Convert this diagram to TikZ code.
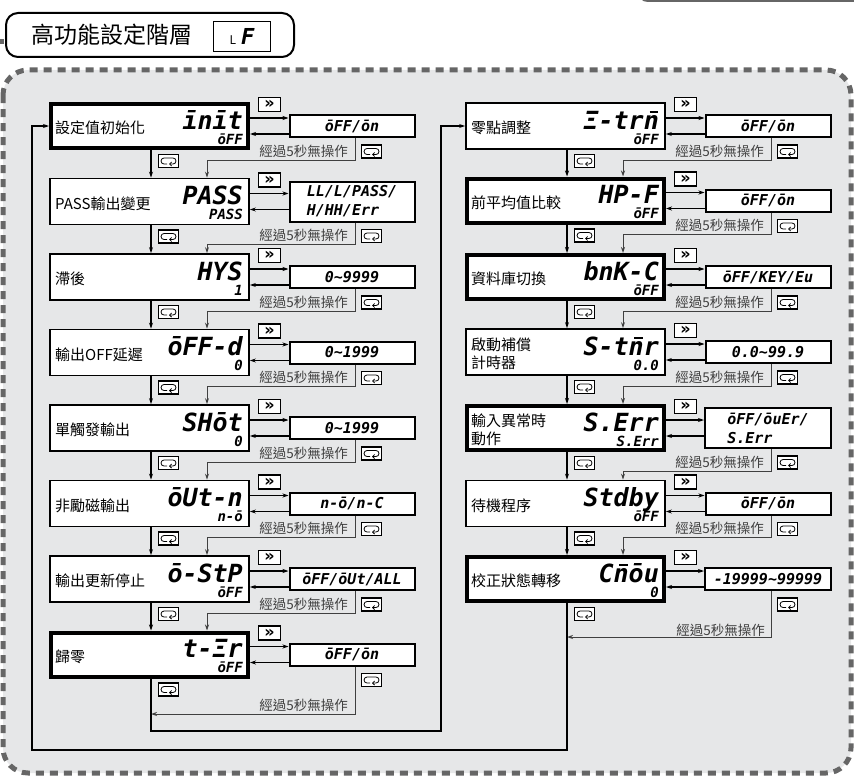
\documentclass[tikz,border=0pt]{standalone}
\usepackage{fontspec}
\setmainfont{Noto Sans CJK TC}
\newfontfamily\segfont{DejaVu Sans Mono}
\newfontfamily\symfont{DejaVu Sans}
\usetikzlibrary{arrows.meta,positioning}

\definecolor{panelgray}{HTML}{E6E7E8}
\definecolor{dashgray}{HTML}{666666}
\definecolor{inkgray}{HTML}{404040}

% segment with a bar on top
\newcommand\segbar[1]{\ooalign{#1\cr\hidewidth\kern0.2em\raisebox{0.64em}{\rule{0.34em}{0.09em}}\hidewidth\cr}}

\tikzset{
  menubox/.style={draw=black,fill=white,line width=1.8pt,minimum width=199pt,minimum height=46pt,inner sep=0pt},
  menuboxbold/.style={menubox,line width=4pt,minimum width=197pt,minimum height=44pt},
  valbox/.style={draw=black,fill=white,line width=2pt,minimum width=125pt,minimum height=22pt,inner sep=0pt,align=left,
    font=\segfont\bfseries\itshape\fontsize{15}{19}\selectfont},
  keybtn/.style={draw=black,fill=white,line width=1.2pt,minimum width=22pt,minimum height=14pt,inner sep=0pt,
    font=\symfont\bfseries\fontsize{16}{16}\selectfont},
  loopbtn/.style={draw=black,fill=white,line width=1.2pt,minimum width=20pt,minimum height=13pt,inner sep=0pt},
  itemtext/.style={anchor=west,inner sep=0pt,align=left,font=\fontsize{15}{18}\selectfont},
  segbig/.style={anchor=base east,inner sep=0pt,font=\segfont\bfseries\itshape\fontsize{25}{25}\selectfont},
  segsmall/.style={anchor=base east,inner sep=0pt,font=\segfont\bfseries\itshape\fontsize{14}{14}\selectfont},
  idletext/.style={anchor=east,inner sep=0pt,text=inkgray,font=\fontsize{13.5}{14}\selectfont},
  flow/.style={line width=1.2pt,-{Stealth[length=6pt,width=4pt]}},
  idle/.style={draw=inkgray,line width=1pt,-{Stealth[length=6pt,width=4pt]}},
  loopicon/.pic={\draw[line width=0.8pt,-{Straight Barb[length=2pt,width=4pt]}]
    (-1.5,3) -- (-4.5,3) arc(90:270:3) -- (4.5,-3) arc(270:450:3) -- (0.5,3);}
}

% one row of the menu: box, texts, value box, keys and arrows
\newcommand\menurow[9]{%
  \node[#4] (#1) at (#2+100.5,#3) {};
  \node[itemtext] (#1-l) at (#2+6,#3+2) {#5};
  \node[segbig] (#1-b) at (#2+194,#3+3) {#6};
  \node[segsmall] (#1-s) at (#2+194,#3+18) {#7};
  \node[valbox,#9] (#1-v) at (#2+303,#3) {#8};
  \node[keybtn] (#1-k) at (#2+220.5,#3-21.5) {»};
  \node[loopbtn] (#1-c) at ([xshift=19.5pt,yshift=-13.5pt]#1-v.south) {};
  \node[loopbtn] (#1-d) at (#2+119.5,#3+35) {};
  \pic at (#1-c) {loopicon};
  \pic at (#1-d) {loopicon};
  \draw[flow] ([yshift=8pt]#1.east) -- ([yshift=8pt]#1-v.west);
  \draw[flow] ([yshift=-8pt]#1-v.west) -- ([yshift=-8pt]#1.east);
}

\begin{document}
\begin{tikzpicture}[x=1pt,y=-1pt]
\useasboundingbox (0,0) rectangle (854,776);

% bits of the neighbouring panels
\draw[dashgray,line width=2pt,rounded corners=10pt] (638,-20) -- (638,1) -- (870,1);
\draw[dashgray,line width=5pt] (0,42) -- (4,42);

% dashed panel
\draw[dashgray,line width=5pt,dash pattern=on 8pt off 6pt,fill=panelgray,rounded corners=25pt] (3,70) rectangle (851,773);

% title
\node[draw,line width=2pt,rounded corners=12pt,fill=white,minimum width=288pt,minimum height=44pt] (title) at (150,35) {};
\node[anchor=west,inner sep=0pt,font=\fontsize{23}{23}\selectfont] (title-t) at (31,35) {高功能設定階層};
\node[draw,line width=1.2pt,fill=white,minimum width=57pt,minimum height=30pt,inner sep=0pt] (lf) at (242,36.5)
  {{\fontsize{12}{12}\selectfont L}\hspace{5pt}{\segfont\bfseries\itshape\fontsize{22}{22}\selectfont F}};

% left column
\menurow{L1}{49}{126}{menuboxbold}{設定值初始化}{īnīt}{ōFF}{ōFF/ōn}{}
\menurow{L2}{49}{201.5}{menubox}{PASS輸出變更}{PASS}{PASS}{LL/L/PASS/\\H/HH/Err}{minimum height=40pt}
\menurow{L3}{49}{277}{menubox}{滯後}{HYS}{1}{0\textasciitilde9999}{}
\menurow{L4}{49}{352.5}{menubox}{輸出OFF延遲}{ōFF-d}{0}{0\textasciitilde1999}{}
\menurow{L5}{49}{428}{menubox}{單觸發輸出}{SHōt}{0}{0\textasciitilde1999}{}
\menurow{L6}{49}{503.5}{menubox}{非勵磁輸出}{ōUt-n}{n-ō}{n-ō/n-C}{}
\menurow{L7}{49}{579}{menubox}{輸出更新停止}{ō-StP}{ōFF}{ōFF/ōUt/ALL}{}
\menurow{L8}{49}{654.5}{menuboxbold}{歸零}{t-Ξr}{ōFF}{ōFF/ōn}{}

% right column
\menurow{R1}{465}{126}{menubox}{零點調整}{Ξ-tr\segbar{n}}{ōFF}{ōFF/ōn}{}
\menurow{R2}{465}{200.5}{menuboxbold}{前平均值比較}{HP-F}{ōFF}{ōFF/ōn}{}
\menurow{R3}{465}{277}{menuboxbold}{資料庫切換}{bnK-C}{ōFF}{ōFF/KEY/Eu}{}
\menurow{R4}{465}{352}{menubox}{啟動補償\\計時器}{S-t\segbar{n}r}{0.0}{0.0\textasciitilde99.9}{}
\menurow{R5}{465}{428}{menuboxbold}{輸入異常時\\動作}{S.Err}{S.Err}{ōFF/ōuEr/\\S.Err}{minimum height=40pt,minimum width=126pt}
\menurow{R6}{465}{503.5}{menubox}{待機程序}{Stdby}{ōFF}{ōFF/ōn}{}
\menurow{R7}{465}{579}{menuboxbold}{校正狀態轉移}{C\segbar{n}ōu}{0}{-19999\textasciitilde99999}{minimum width=126pt}

% next item and time-out return
\foreach \a/\b in {L1/L2,L2/L3,L3/L4,L4/L5,L5/L6,L6/L7,L7/L8,R1/R2,R2/R3,R3/R4,R4/R5,R5/R6,R6/R7}{
  \draw[flow] ([xshift=1.5pt]\a.south) -- ([xshift=1.5pt]\b.north);
  \node[idletext] (\a-t) at ([xshift=-4pt,yshift=-13pt]\a-v.south) {經過5秒無操作};
  \draw[idle] ([xshift=3pt]\a-v.south) |- ([xshift=-145pt,yshift=-22pt]\a-v.south)
    -- ([xshift=-145pt]\a-v.south |- \b.north);
}

% last items
\coordinate (L8-back) at (151,714);
\coordinate (R7-back) at (567,637);
\node[idletext] (L8-t) at (348,705) {經過5秒無操作};
\node[idletext] (R7-t) at (765,630) {經過5秒無操作};
\draw[idle] ([xshift=3pt]L8-v.south) |- (L8-back);
\draw[idle] ([xshift=3pt]R7-v.south) |- (R7-back);

% loops between the columns
\coordinate (loopA) at (441,731);
\coordinate (loopB) at (32,750);
\draw[flow] ([xshift=1.5pt]L8.south) |- (loopA) |- (R1.west);
\draw[flow] ([xshift=1.5pt]R7.south) |- (loopB) |- (L1.west);
\end{tikzpicture}
\end{document}
